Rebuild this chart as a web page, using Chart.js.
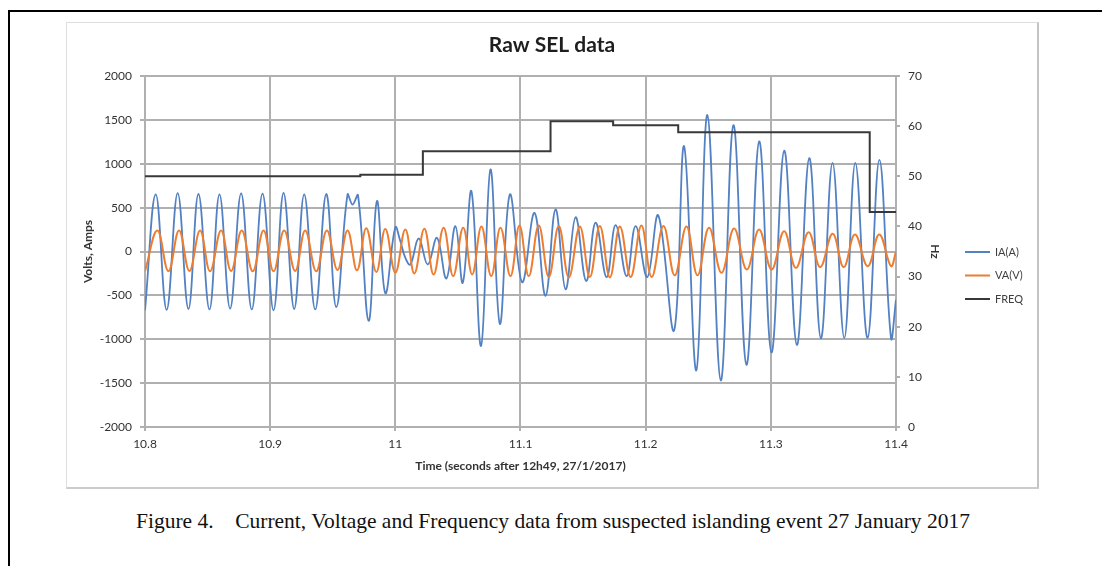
<!DOCTYPE html>
<html lang="en">
<head>
  <meta charset="UTF-8">
  <title>Raw SEL data</title>
  <script src="https://cdn.jsdelivr.net/npm/chart.js"></script>
  <style>
    body { margin: 0; background: #fff; width: 1102px; height: 566px; overflow: hidden; position: relative; }
    #frame { position: absolute; left: 8px; top: 10px; right: 0; bottom: 0; border-left: 2px solid #000; border-top: 2px solid #000; }
    #box { position: absolute; left: 66px; top: 22px; width: 973px; height: 467px; box-sizing: border-box;
           border: 1px solid #dedede; border-right: 2px solid #c4c4c4; border-bottom: 2px solid #cccccc; }
    #rawChart { position: absolute; left: 66px; top: 22px; }
    #caption { position: absolute; left: 0; width: 1106px; top: 509px; text-align: center; white-space: pre;
               font: 21.5px "Liberation Serif", "Times New Roman", serif; color: #111; }
  </style>
</head>
<body>
  <div id="frame"></div>
  <div id="box"></div>
  <canvas id="rawChart" width="972" height="466"></canvas>
  <div id="caption">Figure 4.    Current, Voltage and Frequency data from suspected islanding event 27 January 2017</div>

  <script>
    // axis ticks
    const xTicks = [10.8, 10.9, 11.0, 11.1, 11.2, 11.3, 11.4];
    const xTickLabels = ['10.8', '10.9', '11', '11.1', '11.2', '11.3', '11.4'];
    const yTicks = [-2000, -1500, -1000, -500, 0, 500, 1000, 1500, 2000];
    const yTickLabels = ['-2000', '-1500', '-1000', '-500', '0', '500', '1000', '1500', '2000'];
    const hzTicks = [0, 10, 20, 30, 40, 50, 60, 70];
    const hzTickLabels = ['0', '10', '20', '30', '40', '50', '60', '70'];

    // IA(A) - peaks and troughs
    const iaTime = [10.8, 10.8086, 10.8173, 10.8261, 10.8347, 10.8427, 10.8515, 10.8595, 10.868, 10.8768,
      10.8853, 10.8939, 10.9027, 10.9107, 10.9192, 10.9272, 10.936, 10.9448, 10.9528, 10.9618,
      10.9658, 10.9702, 10.9787, 10.9853, 10.992, 11.0, 11.004, 11.008, 11.012, 11.0187,
      11.0259, 11.0333, 11.0408, 11.048, 11.0539, 11.0608, 11.0685, 11.076, 11.0835, 11.0915,
      11.1013, 11.1112, 11.12, 11.128, 11.136, 11.144, 11.1525, 11.16, 11.1688, 11.176,
      11.1848, 11.192, 11.2013, 11.2101, 11.2227, 11.2307, 11.2405, 11.2493, 11.26, 11.2701,
      11.2805, 11.2907, 11.3005, 11.3107, 11.3208, 11.3307, 11.34, 11.3493, 11.3587, 11.3675,
      11.3773, 11.3867, 11.396, 11.4];
    const iaValues = [-670, 650, -665, 665, -655, 655, -660, 650, -650, 662,
      -660, 660, -670, 668, -655, 652, -660, 655, -633, 648,
      535, 640, -790, 575, -475, 275, 117, -72, -148, 148,
      -148, 155, -307, 288, -356, 686, -1076, 935, -825, 650,
      -350, 440, -505, 480, -432, 390, -337, 330, -292, 300,
      -280, 290, -292, 410, -900, 1200, -1355, 1555, -1470, 1440,
      -1290, 1255, -1150, 1150, -1065, 1065, -990, 1010, -985, 1010,
      -985, 1045, -985, -550];

    // VA(V)
    const vaTime = [10.8, 10.8099, 10.8187, 10.8272, 10.8355, 10.844, 10.852, 10.8608, 10.8688, 10.8773,
      10.8861, 10.8947, 10.9027, 10.9112, 10.92, 10.928, 10.9368, 10.9453, 10.9538, 10.9618,
      10.9694, 10.9768, 10.9848, 10.992, 11.0, 11.008, 11.0152, 11.0232, 11.0306, 11.0386,
      11.0462, 11.0542, 11.0614, 11.0688, 11.0766, 11.084, 11.092, 11.0992, 11.1066, 11.1146,
      11.1226, 11.1306, 11.1386, 11.1474, 11.1554, 11.1634, 11.1714, 11.1794, 11.188, 11.1966,
      11.2048, 11.2142, 11.2232, 11.2326, 11.2414, 11.2506, 11.2606, 11.2706, 11.2808, 11.2906,
      11.3006, 11.3106, 11.32, 11.3302, 11.3394, 11.3494, 11.3582, 11.3672, 11.3774, 11.3866,
      11.396, 11.4];
    const vaValues = [-225, 238, -225, 240, -222, 238, -225, 240, -222, 238,
      -225, 240, -225, 238, -222, 240, -225, 238, -210, 240,
      -215, 265, -233, 255, -240, 250, -250, 260, -262, 272,
      -280, 272, -262, 285, -280, 272, -280, 295, -280, 296,
      -290, 290, -295, 285, -290, 292, -295, 285, -290, 296,
      -290, 290, -272, 284, -272, 270, -242, 261, -205, 250,
      -205, 231, -186, 220, -178, 201, -178, 193, -167, 193,
      -167, 0];

    // FREQ (Hz) - value changes
    const freqTime = [10.8, 10.972, 11.022, 11.124, 11.174, 11.226, 11.379, 11.4];
    const freqValues = [50, 50.3, 55, 61, 60.2, 58.8, 42.9, 42.9];

    const chartTitle = 'Raw SEL data';

    const toPoints = (xs, ys) => xs.map((x, i) => ({ x: x, y: ys[i] }));

    const tickFont = { family: 'Lato', size: 12 };
    const titleFont = { family: 'Lato', size: 12, weight: 'bold' };
    const gridColor = '#b0b0b0';

    // title centred on the whole chart box, legend to the right
    const frameText = {
      id: 'frameText',
      afterDraw(chart) {
        const ctx = chart.ctx;
        ctx.save();
        ctx.font = 'bold 21px Lato';
        ctx.fillStyle = '#1e1e1e';
        ctx.textAlign = 'center';
        ctx.textBaseline = 'middle';
        ctx.fillText(chartTitle, 486, 23);

        ctx.font = '11px Lato';
        ctx.textAlign = 'left';
        chart.data.datasets.forEach((ds, i) => {
          const y = 230 + i * 23.5;
          ctx.strokeStyle = ds.borderColor;
          ctx.lineWidth = 2;
          ctx.beginPath();
          ctx.moveTo(899, y);
          ctx.lineTo(924, y);
          ctx.stroke();
          ctx.fillStyle = '#404040';
          ctx.fillText(ds.label, 929, y);
        });
        ctx.restore();
      }
    };

    const ctx = document.getElementById('rawChart').getContext('2d');
    new Chart(ctx, {
      type: 'line',
      data: {
        datasets: [{
          label: 'IA(A)',
          data: toPoints(iaTime, iaValues),
          borderColor: '#5381c2',
          borderWidth: 1.8,
          pointRadius: 0,
          tension: 0.4,
          yAxisID: 'y',
          order: 3
        }, {
          label: 'VA(V)',
          data: toPoints(vaTime, vaValues),
          borderColor: '#ed7d31',
          borderWidth: 2,
          pointRadius: 0,
          tension: 0.4,
          yAxisID: 'y',
          order: 2
        }, {
          label: 'FREQ',
          data: toPoints(freqTime, freqValues),
          borderColor: '#383838',
          borderWidth: 2,
          pointRadius: 0,
          stepped: true,
          yAxisID: 'y2',
          order: 1
        }]
      },
      options: {
        responsive: false,
        animation: false,
        layout: { padding: { left: 12, right: 93, top: 54, bottom: 0 } },
        plugins: {
          legend: { display: false },
          tooltip: { enabled: false },
          title: { display: false }
        },
        scales: {
          x: {
            type: 'linear',
            min: 10.8,
            max: 11.4,
            afterBuildTicks: scale => { scale.ticks = xTicks.map(v => ({ value: v })); },
            afterFit: scale => { scale.height = 61; },
            ticks: {
              callback: (value, index) => xTickLabels[index],
              font: tickFont,
              color: '#333',
              padding: 6,
              maxRotation: 0
            },
            grid: { color: gridColor, lineWidth: 2, tickLength: 4 },
            border: { color: gridColor, width: 2 },
            title: {
              display: true,
              text: 'Time (seconds after 12h49, 27/1/2017)',
              font: titleFont,
              color: '#333',
              padding: { top: 4, bottom: 15 }
            }
          },
          y: {
            position: 'left',
            min: -2000,
            max: 2000,
            afterBuildTicks: scale => { scale.ticks = yTicks.map(v => ({ value: v })); },
            afterFit: scale => { scale.width = 67; },
            ticks: {
              callback: (value, index) => yTickLabels[index],
              font: tickFont,
              color: '#333',
              padding: 8
            },
            grid: { color: gridColor, lineWidth: 2, tickLength: 5 },
            border: { color: gridColor, width: 2 },
            title: {
              display: true,
              text: 'Volts, Amps',
              font: titleFont,
              color: '#333',
              padding: { top: 3, bottom: 4 }
            }
          },
          y2: {
            position: 'right',
            min: 0,
            max: 70,
            afterBuildTicks: scale => { scale.ticks = hzTicks.map(v => ({ value: v })); },
            afterFit: scale => { scale.width = 49; },
            ticks: {
              callback: (value, index) => hzTickLabels[index],
              font: tickFont,
              color: '#333',
              padding: 8
            },
            grid: { drawOnChartArea: false, color: gridColor, lineWidth: 2, tickLength: 4 },
            border: { color: gridColor, width: 2 },
            title: {
              display: true,
              text: 'Hz',
              font: titleFont,
              color: '#333',
              padding: { top: 3, bottom: 4 }
            }
          }
        }
      },
      plugins: [frameText]
    });
  </script>
</body>
</html>
